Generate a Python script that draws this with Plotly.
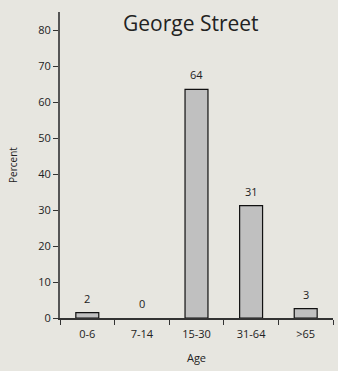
import plotly.graph_objects as go

categories = ["0-6", "7-14", "15-30", "31-64", ">65"]
values = [1.5, 0, 63.5, 31.2, 2.6]
labels = ["2", "0", "64", "31", "3"]
y_ticks = [0, 10, 20, 30, 40, 50, 60, 70, 80]

BG = "#E7E6E0"
FONT = "Open Sans"

fig = go.Figure()
fig.add_trace(go.Bar(
    x=categories, y=values, width=0.42,
    marker=dict(color="#C0C0C0",
                line=dict(color="#111111", width=[1.2 if v > 0 else 0 for v in values])),
    hoverinfo="skip",
))

for c, v, t in zip(categories, values, labels):
    fig.add_annotation(x=c, y=v, text=t, showarrow=False, yanchor="bottom",
                       yshift=5, font=dict(family=FONT, size=11, color="#222222"))

fig.add_annotation(x=0.48, xref="paper", y=1.0, yref="paper", yanchor="middle",
                   yshift=-11, text="George Street", showarrow=False,
                   font=dict(family=FONT, size=21, color="#222222"))

fig.update_layout(
    width=338, height=371,
    margin=dict(l=60, r=5, t=12, b=53),
    paper_bgcolor=BG, plot_bgcolor=BG,
    showlegend=False,
    font=dict(family=FONT, size=11, color="#222222"),
)
fig.update_xaxes(
    range=[-0.5, 4.5], showline=True, linecolor="#333333", linewidth=1.5,
    ticks="outside", tickson="boundaries", ticklen=5, tickcolor="#333333", tickwidth=1,
    showgrid=False, zeroline=False, ticklabelstandoff=5,
    title=dict(text="Age", font=dict(family=FONT, size=11), standoff=14),
    tickfont=dict(family=FONT, size=11),
)
fig.update_yaxes(
    range=[0, 85], tickvals=y_ticks, showline=True, linecolor="#555555", linewidth=2,
    ticks="outside", ticklen=5, tickcolor="#333333", tickwidth=1,
    showgrid=False, zeroline=False,
    title=dict(text="Percent", font=dict(family=FONT, size=10), standoff=19),
    tickfont=dict(family=FONT, size=11),
)

fig.write_html("out.html", config={"displayModeBar": False},
               post_script="document.body.style.margin='0';document.body.style.background='" + BG + "';")
